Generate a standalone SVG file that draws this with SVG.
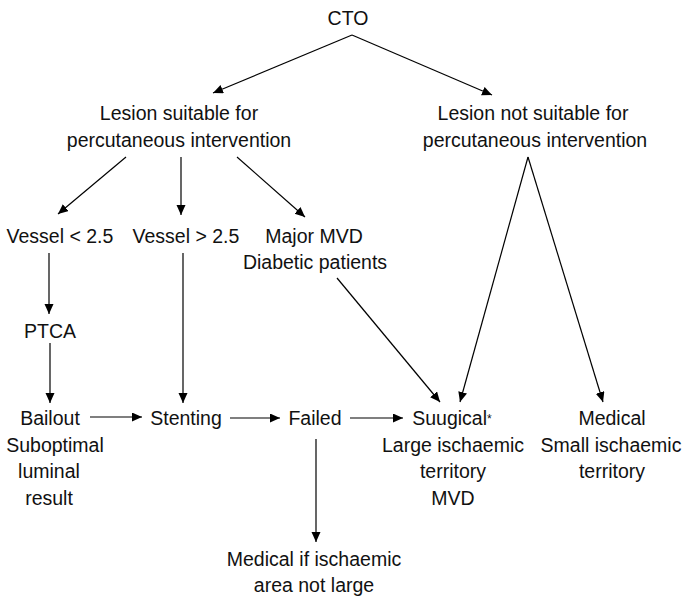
<svg xmlns="http://www.w3.org/2000/svg" width="683" height="599" viewBox="0 0 683 599">
<style>
text{font-family:"Liberation Sans",Arial,sans-serif;font-size:19.5px;fill:#111;text-anchor:middle}
.c line{stroke:#000;stroke-width:1.2;fill:none;marker-end:url(#ah)}
</style>
<defs>
<marker id="ah" markerUnits="userSpaceOnUse" markerWidth="12" markerHeight="10" refX="10" refY="4.5" orient="auto">
<path d="M0,0 L10,4.5 L0,9 Z" fill="#000"/>
</marker>
</defs>
<rect width="683" height="599" fill="#fff"/>
<g class="c" id="connectors">
<line x1="352" y1="35" x2="213" y2="93"/>
<line x1="352" y1="35" x2="492" y2="95"/>
<line x1="126" y1="157" x2="58" y2="214"/>
<line x1="181" y1="157" x2="181" y2="215"/>
<line x1="237" y1="157" x2="305" y2="217"/>
<line x1="49" y1="253" x2="49" y2="314"/>
<line x1="50" y1="343" x2="50" y2="403"/>
<line x1="183" y1="253" x2="183" y2="403"/>
<line x1="90" y1="417" x2="142" y2="417"/>
<line x1="230" y1="418" x2="280" y2="418"/>
<line x1="350" y1="418" x2="403" y2="418"/>
<line x1="316" y1="439" x2="316" y2="542"/>
<line x1="337" y1="278" x2="440" y2="402"/>
<line x1="528" y1="157" x2="460" y2="402"/>
<line x1="528" y1="157" x2="603" y2="402"/>
</g>
<g id="cto"><text x="348" y="25">CTO</text></g>
<g id="suitable"><text x="179" y="120">Lesion suitable for</text><text x="179" y="147">percutaneous intervention</text></g>
<g id="notsuitable"><text x="533" y="120">Lesion not suitable for</text><text x="535" y="147">percutaneous intervention</text></g>
<g id="vessel-lt"><text x="60" y="243">Vessel &lt; 2.5</text></g>
<g id="vessel-gt"><text x="186" y="243">Vessel &gt; 2.5</text></g>
<g id="mvd"><text x="314" y="243">Major MVD</text><text x="315" y="269">Diabetic patients</text></g>
<g id="ptca"><text x="50" y="338">PTCA</text></g>
<g id="bailout"><text x="50" y="425">Bailout</text><text x="55" y="452">Suboptimal</text><text x="49" y="478">luminal</text><text x="49" y="505">result</text></g>
<g id="stenting"><text x="186" y="425">Stenting</text></g>
<g id="failed"><text x="315" y="425">Failed</text></g>
<g id="surgical"><text x="452" y="425">Suugical<tspan font-size="12" dy="-2">*</tspan></text><text x="453" y="452">Large ischaemic</text><text x="453" y="478">territory</text><text x="453" y="505">MVD</text></g>
<g id="medical"><text x="612" y="425">Medical</text><text x="611" y="452">Small ischaemic</text><text x="612" y="478">territory</text></g>
<g id="medical-if"><text x="314" y="566">Medical if ischaemic</text><text x="314" y="592">area not large</text></g>
</svg>
